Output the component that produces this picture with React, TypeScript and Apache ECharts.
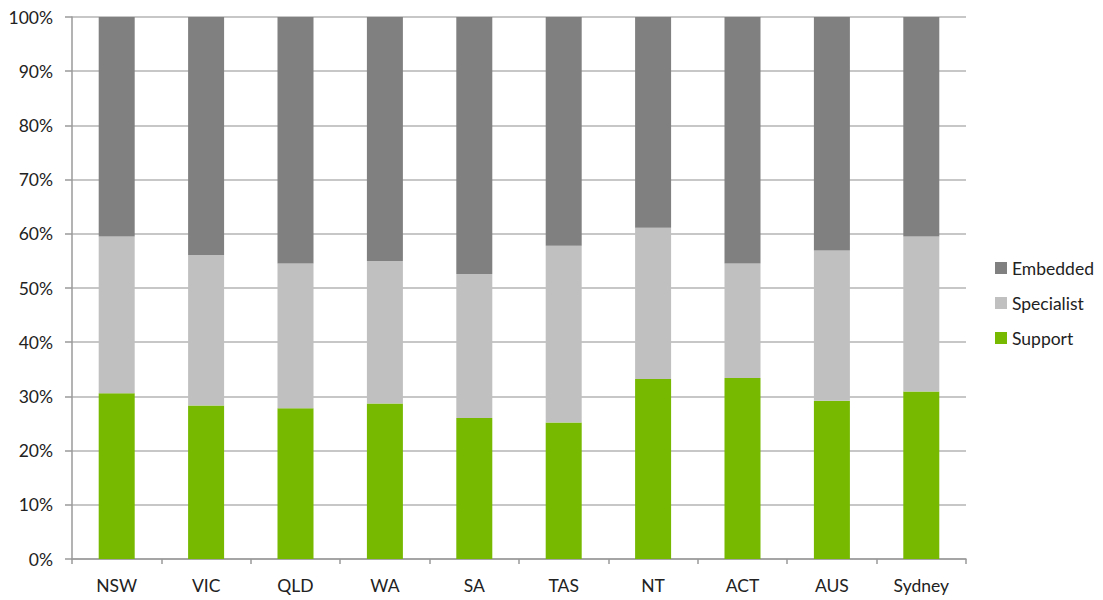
import React, { useEffect, useRef } from "react";
import * as echarts from "echarts";

const categories = ["NSW", "VIC", "QLD", "WA", "SA", "TAS", "NT", "ACT", "AUS", "Sydney"];
const support = [30.6, 28.3, 27.8, 28.7, 26.0, 25.2, 33.2, 33.4, 29.2, 30.9];
const specialist = [28.9, 27.8, 26.7, 26.3, 26.6, 32.6, 27.9, 21.1, 27.7, 28.6];
const embedded = [40.5, 43.9, 45.5, 45.0, 47.4, 42.2, 38.9, 45.5, 43.1, 40.5];
const legendOrder = ["Embedded", "Specialist", "Support"];

const FONT = "Lato, 'Open Sans', sans-serif";

export default function App() {
  const ref = useRef<HTMLDivElement>(null);
  useEffect(() => {
    document.body.style.margin = "0";
    if (!ref.current) return;
    const chart = echarts.init(ref.current, undefined, { renderer: "svg" });
    chart.setOption({
      animation: false,
      backgroundColor: "#ffffff",
      textStyle: { fontFamily: FONT },
      grid: { left: 72, right: 137, top: 17, bottom: 41, containLabel: false },
      legend: {
        orient: "vertical",
        left: 990,
        top: 254,
        data: legendOrder,
        icon: "rect",
        itemWidth: 12,
        itemHeight: 12,
        itemGap: 17,
        textStyle: { fontFamily: FONT, fontSize: 17.5, color: "#222" },
      },
      xAxis: {
        type: "category",
        data: categories,
        axisLine: { lineStyle: { color: "#9a9a9a", width: 1.5 } },
        axisTick: { show: true, length: 5, lineStyle: { color: "#9a9a9a", width: 1.5 } },
        axisLabel: { fontFamily: FONT, fontSize: 17.5, color: "#222", margin: 17 },
      },
      yAxis: {
        type: "value",
        min: 0,
        max: 100,
        interval: 10,
        axisLine: { show: true, lineStyle: { color: "#9a9a9a", width: 1.5 } },
        axisTick: { show: true, inside: false, length: 7, lineStyle: { color: "#9a9a9a", width: 1.5 } },
        splitLine: { lineStyle: { color: "#b4b4b4", width: 1.5 } },
        axisLabel: { fontFamily: FONT, fontSize: 17.5, color: "#222", margin: 19, formatter: "{value}%" },
      },
      series: [
        { name: "Support", type: "bar", stack: "a", data: support, barWidth: 36, itemStyle: { color: "#76b900" } },
        { name: "Specialist", type: "bar", stack: "a", data: specialist, barWidth: 36, itemStyle: { color: "#c0c0c0" } },
        { name: "Embedded", type: "bar", stack: "a", data: embedded, barWidth: 36, itemStyle: { color: "#808080" } },
      ],
    });
    return () => chart.dispose();
  }, []);
  return <div ref={ref} style={{ width: 1103, height: 600 }} />;
}
